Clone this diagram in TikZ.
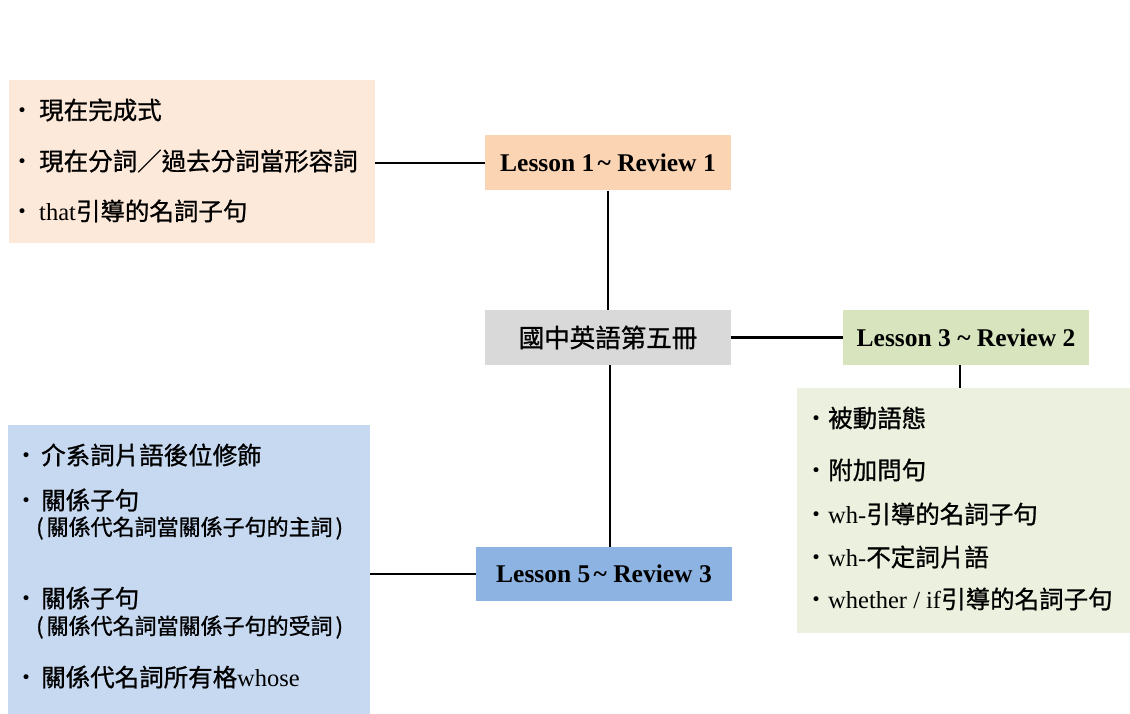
\documentclass[tikz,border=0pt]{standalone}
\usepackage{fontspec}
\setmainfont{Liberation Serif}
\newfontfamily\cjk[FakeBold=0.9]{Noto Sans CJK TC}
\newfontfamily\sym{DejaVu Sans}
\usepackage{tikz}
\usetikzlibrary{positioning}
\definecolor{peachlight}{RGB}{253,233,217}
\definecolor{peach}{RGB}{251,212,180}
\definecolor{greylight}{RGB}{217,217,217}
\definecolor{olive}{RGB}{215,228,189}
\definecolor{olivelight}{RGB}{235,241,222}
\definecolor{blue}{RGB}{141,179,226}
\definecolor{bluelight}{RGB}{198,217,241}
\newcommand{\dotitem}[1][12pt]{\raisebox{3pt}{\fontsize{17}{17}\selectfont\sym •}\hspace{#1}}

\begin{document}
\begin{tikzpicture}[
                x=1pt,y=-1pt,
                block/.style={rectangle,draw=none,inner sep=0,minimum width=246,minimum height=55},
                lesson/.style={block,font=\fontsize{25.5}{30}\selectfont\bfseries},
                notes/.style={rectangle,draw=none,inner sep=0},
                item/.style={anchor=west,inner sep=0,font=\fontsize{24.5}{28}\selectfont},
                small/.style={anchor=west,inner sep=0,font=\fontsize{22}{26}\selectfont},
                link/.style={line width=2.8pt,black},
            ]
                \useasboundingbox (0,0) rectangle (1130,714);

                \node[block,fill=greylight,font=\fontsize{25.5}{30}\selectfont\cjk] (book) at (608,337.5) {國中英語第五冊};
                \node[lesson,fill=peach] (l1) at (608,163) {Lesson 1\kern-1pt\,\textasciitilde\ Review 1};
                \node[lesson,fill=olive] (l3) at (966,337.5) {Lesson 3 \textasciitilde\ Review 2};
                \node[lesson,fill=blue,minimum width=256,minimum height=54] (l5) at (604,574) {Lesson 5\kern-1pt\,\textasciitilde\ Review 3};

                \node[notes,fill=peachlight,minimum width=366,minimum height=163] (n1) at (192,161.5) { };
                \node[notes,fill=olivelight,minimum width=333,minimum height=245] (n3) at (963.5,510.5) { };
                \node[notes,fill=bluelight,minimum width=362,minimum height=289] (n5) at (189,569.5) { };

                \node[item] (t1) at (17,110) {\dotitem{\cjk 現在完成式}};
                \node[item] (t2) at (17,161) {\dotitem{\cjk 現在分詞／過去分詞當形容詞}};
                \node[item] (t3) at (17,211) {\dotitem that{\cjk 引導的名詞子句}};

                \node[item] (t4) at (811,418) {\dotitem[7pt]{\cjk 被動語態}};
                \node[item] (t5) at (811,470) {\dotitem[7pt]{\cjk 附加問句}};
                \node[item] (t6) at (811,514) {\dotitem[7pt]wh-{\cjk 引導的名詞子句}};
                \node[item] (t7) at (811,557) {\dotitem[7pt]wh-{\cjk 不定詞片語}};
                \node[item] (t8) at (811,599) {\dotitem[7pt]whether / if{\cjk 引導的名詞子句}};

                \node[item] (t9) at (21,455) {\dotitem[10pt]{\cjk 介系詞片語後位修飾}};
                \node[item] (t10) at (21,500) {\dotitem[10pt]{\cjk 關係子句}};
                \node[small] (t11) at (36,528) {\cjk (\kern3pt 關係代名詞當關係子句的主詞\kern3pt)};
                \node[item] (t12) at (21,598) {\dotitem[10pt]{\cjk 關係子句}};
                \node[small] (t13) at (36,627) {\cjk (\kern3pt 關係代名詞當關係子句的受詞\kern3pt)};
                \node[item] (t14) at (21,677) {\dotitem[10pt]{\cjk 關係代名詞所有格}whose};

% connectors between the boxes
                \draw[link] (l1.west) -- (l1.west -| n1.east);
                \draw[link] (l1.south) -- (l1.south |- book.north);
                \draw[link] (book.east) -- (l3.west);
                \draw[link] ([xshift=-6pt]l3.south) -- ([xshift=-6pt]l3.south |- n3.north);
                \draw[link] ([xshift=2pt]book.south) -- ([xshift=2pt]book.south |- l5.north);
                \draw[link] (l5.west) -- (l5.west -| n5.east);
            \end{tikzpicture}
\end{document}
